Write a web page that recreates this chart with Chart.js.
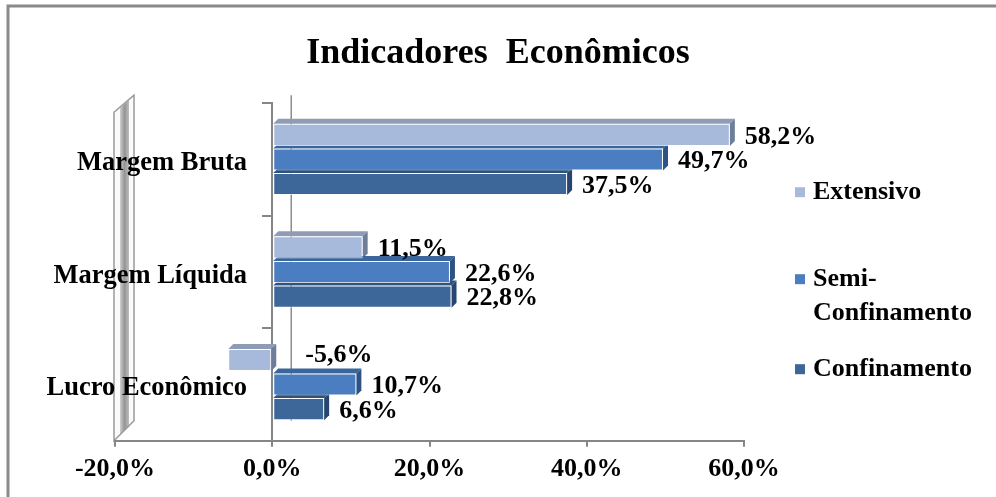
<!DOCTYPE html>
<html><head><meta charset="utf-8">
<script src="https://cdn.jsdelivr.net/npm/chart.js@4/dist/chart.umd.min.js"></script>
<style>html,body{margin:0;padding:0;background:#fff}</style>
</head><body>
<canvas id="c" width="996" height="497"></canvas>
<script>
const categories = ['Margem Bruta', 'Margem Líquida', 'Lucro Econômico'];
const seriesNames = ['Extensivo', 'Semi-Confinamento', 'Confinamento'];
const legendLines = [['Extensivo'], ['Semi-', 'Confinamento'], ['Confinamento']];
const extensivo = [58.2, 11.5, -5.6];
const semiConfinamento = [49.7, 22.6, 10.7];
const confinamento = [37.5, 22.8, 6.6];
const xTicks = [-20, 0, 20, 40, 60];
const titleText = 'Indicadores  Econômicos';

const FONT = '"Liberation Serif", "Times New Roman", serif';
const fmt = v => v.toFixed(1).replace('.', ',') + '%';
const frontColors = ['#a8badb', '#4a7ec0', '#3d6699'];
const topColors = ['#8e9cb6', '#3a669c', '#2f527f'];
const sideColors = ['#6e7e9a', '#2d5283', '#27456d'];

function poly(ctx, pts) {
  ctx.beginPath();
  ctx.moveTo(pts[0][0], pts[0][1]);
  for (let i = 1; i < pts.length; i++) ctx.lineTo(pts[i][0], pts[i][1]);
  ctx.closePath();
}

const decor = {
  id: 'decor',
  beforeDraw(chart) {
    const ctx = chart.ctx, a = chart.chartArea, xs = chart.scales.x;
    ctx.save();
    // outer frame
    ctx.strokeStyle = '#8a8a8a';
    ctx.lineWidth = 3;
    ctx.beginPath();
    ctx.moveTo(8, chart.height);
    ctx.lineTo(8, 6);
    ctx.lineTo(chart.width, 6);
    ctx.stroke();
    // side wall
    const L = xs.getPixelForValue(xTicks[0]) - 1;
    const wall = [[L, a.top + 9], [L + 20, a.top - 8], [L + 20, a.bottom - 20], [L, a.bottom]];
    poly(ctx, wall);
    ctx.fillStyle = '#fbfbfb';
    ctx.fill();
    const g = ctx.createLinearGradient(L + 6, 0, L + 15, 0);
    g.addColorStop(0, '#cfcfcf');
    g.addColorStop(0.5, '#959595');
    g.addColorStop(1, '#bdbdbd');
    poly(ctx, [[L + 6, a.top + 5], [L + 15, a.top - 3], [L + 15, a.bottom - 14], [L + 6, a.bottom - 6]]);
    ctx.fillStyle = g;
    ctx.fill();
    poly(ctx, wall);
    ctx.strokeStyle = '#9a9a9a';
    ctx.lineWidth = 1.5;
    ctx.stroke();
    // back gridline at zero
    const x0 = xs.getPixelForValue(0);
    ctx.strokeStyle = '#8c8c8c';
    ctx.lineWidth = 1.5;
    ctx.beginPath();
    ctx.moveTo(x0 + 19, a.top - 8);
    ctx.lineTo(x0 + 19, a.bottom - 20);
    ctx.stroke();
    ctx.restore();
  },
  beforeDatasetsDraw(chart) {
    const ctx = chart.ctx;
    ctx.save();
    const D = 5;
    chart.data.datasets.forEach((ds, di) => {
      const meta = chart.getDatasetMeta(di);
      meta.data.forEach(el => {
        const l = Math.min(el.x, el.base), r = Math.max(el.x, el.base);
        const t = el.y - el.height / 2, b = el.y + el.height / 2;
        poly(ctx, [[l, t], [l + D, t - D], [r + D, t - D], [r, t]]);
        ctx.fillStyle = topColors[di];
        ctx.fill();
        poly(ctx, [[r, t], [r + D, t - D], [r + D, b - D], [r, b]]);
        ctx.fillStyle = sideColors[di];
        ctx.fill();
      });
    });
    ctx.restore();
  },
  afterDatasetsDraw(chart) {
    const ctx = chart.ctx, xs = chart.scales.x;
    const x0 = xs.getPixelForValue(0);
    ctx.save();
    ctx.font = 'bold 26px ' + FONT;
    ctx.fillStyle = '#000';
    ctx.textAlign = 'left';
    ctx.textBaseline = 'middle';
    chart.data.datasets.forEach((ds, di) => {
      const meta = chart.getDatasetMeta(di);
      meta.data.forEach((el, i) => {
        const v = ds.data[i];
        if (v >= 0) ctx.fillText(fmt(v), el.x + 15, el.y + 2);
        else ctx.fillText(fmt(v), x0 + 33, el.y - 5);
      });
    });
    ctx.restore();
  },
  afterDraw(chart) {
    const ctx = chart.ctx, a = chart.chartArea;
    const ys = [a.top + 89, a.top + 176, a.top + 266];
    ctx.save();
    ctx.font = 'bold 26px ' + FONT;
    ctx.textBaseline = 'middle';
    ctx.textAlign = 'left';
    legendLines.forEach((lines, i) => {
      const y = ys[i];
      ctx.fillStyle = frontColors[i];
      ctx.fillRect(a.right + 51, y - 5, 10, 10);
      ctx.fillStyle = '#000';
      lines.forEach((ln, k) => ctx.fillText(ln, a.right + 69, y + k * 34));
    });
    ctx.restore();
  }
};

const seriesData = [extensivo, semiConfinamento, confinamento];
new Chart(document.getElementById('c'), {
  type: 'bar',
  data: {
    labels: categories,
    datasets: seriesNames.map((n, i) => ({
      label: n,
      data: seriesData[i],
      backgroundColor: frontColors[i],
      borderColor: 'rgba(255,255,255,0.75)',
      borderWidth: 1,
      borderSkipped: false,
      categoryPercentage: 0.655,
      barPercentage: 0.9,
      xAxisID: 'x',
      yAxisID: 'y'
    }))
  },
  options: {
    indexAxis: 'y',
    responsive: false,
    animation: false,
    events: [],
    layout: { padding: { left: 115, right: 115, top: 0, bottom: 5 } },
    plugins: {
      legend: { display: false },
      tooltip: { enabled: false },
      title: {
        display: true,
        text: titleText,
        color: '#000',
        font: { family: FONT, size: 36, weight: 'bold', lineHeight: 1.2 },
        padding: { top: 32, bottom: 28 }
      }
    },
    scales: {
      x: {
        type: 'linear',
        position: 'bottom',
        min: xTicks[0],
        max: xTicks[xTicks.length - 1],
        afterBuildTicks: s => { s.ticks = xTicks.map(v => ({ value: v })); },
        grid: { drawOnChartArea: false, tickLength: 6, color: '#868686', lineWidth: 2 },
        border: { color: '#868686', width: 2 },
        ticks: {
          font: { family: FONT, size: 26, weight: 'bold' },
          color: '#000',
          padding: 7,
          maxRotation: 0,
          autoSkip: false,
          callback: v => fmt(v)
        }
      },
      y: {
        type: 'category',
        position: { x: 0 },
        offset: true,
        grid: { offset: true, drawOnChartArea: false, tickLength: 9, color: '#868686', lineWidth: 2 },
        border: { color: '#868686', width: 2 },
        ticks: { display: false }
      },
      yl: {
        type: 'category',
        axis: 'y',
        labels: categories,
        position: 'right',
        offset: true,
        grid: { display: false, drawTicks: false },
        border: { display: false },
        ticks: {
          mirror: true,
          crossAlign: 'near',
          font: { family: FONT, size: 26.5, weight: 'bold' },
          color: '#000',
          padding: -497,
          labelOffset: 4
        },
        afterFit: s => {
          s.width = 137;
          s.paddingTop = 0;
          s.paddingBottom = 0;
          s.paddingLeft = 0;
          s.paddingRight = 0;
        }
      }
    }
  },
  plugins: [decor]
});
</script>
</body></html>
